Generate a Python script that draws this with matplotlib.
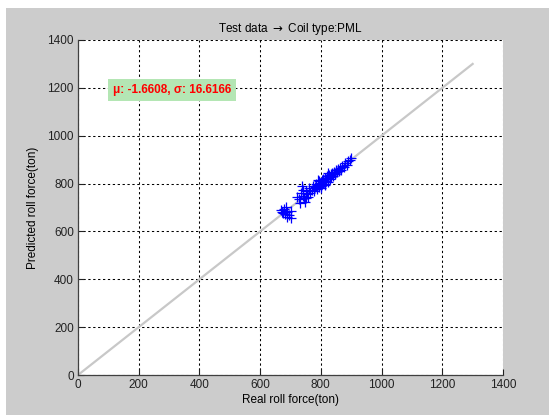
import matplotlib
matplotlib.use("Agg")
import matplotlib.pyplot as plt
from matplotlib.patches import Rectangle

plt.rcParams['font.family'] = ['Liberation Sans', 'DejaVu Sans']

# real vs predicted roll force (ton)
real = [668, 672, 678, 683, 688, 690, 695, 700, 702, 685, 676,
        722, 728, 733, 737, 740, 745, 748, 750, 755, 742, 758, 760, 765, 752, 730,
        770, 775, 778, 782, 785, 788, 790, 793, 795, 798, 800, 803, 805, 808,
        810, 812, 815, 818, 820, 822, 825, 828, 830, 833, 835, 838, 840, 843,
        845, 848, 850, 853, 856, 860, 863, 867, 870, 875, 880, 885, 890, 895,
        898, 802, 815, 825, 790]
pred = [690, 683, 695, 672, 660, 680, 668, 685, 655, 700, 678,
        745, 735, 760, 790, 750, 740, 725, 770, 755, 772, 742, 780, 760, 738, 720,
        775, 790, 768, 785, 800, 778, 795, 810, 785, 802, 790, 815, 800, 820,
        805, 795, 825, 812, 830, 808, 822, 835, 818, 840, 828, 845, 832, 850,
        838, 842, 855, 848, 860, 852, 866, 858, 875, 870, 885, 878, 893, 898,
        905, 780, 800, 845, 815]

ref_line = [0, 1300]
ticks = [0, 200, 400, 600, 800, 1000, 1200, 1400]
stats_text = "\u03bc: -1.6608, \u03c3: 16.6166"

fig = plt.figure(figsize=(5.49, 4.15), dpi=100)
fig.patch.set_facecolor("white")
fig.patches.append(Rectangle((6/549, 0), 1, (415-8)/415, transform=fig.transFigure,
                             facecolor="#cccccc", edgecolor="none", zorder=-10))

ax = fig.add_axes([78/549, 40/415, 425/549, 335/415])
ax.set_facecolor("white")
ax.plot(ref_line, ref_line, color="#c8c8c8", lw=1.6, zorder=2)
ax.plot(real, pred, "+", color="blue", ms=7, mew=0.9, zorder=3)

ax.set_xlim(0, 1400)
ax.set_ylim(0, 1400)
ax.set_xticks(ticks)
ax.set_yticks(ticks)
ax.grid(True, color="black", linestyle=(0, (2.2, 2.5)), lw=0.75)
ax.set_axisbelow(True)
for s in ["top", "right"]:
    ax.spines[s].set_visible(False)
for s in ["left", "bottom"]:
    ax.spines[s].set_color("#404040")
    ax.spines[s].set_linewidth(0.9)
ax.tick_params(direction="in", length=4, labelsize=8.5, colors="#222222", pad=3)

ax.set_title(r"Test data $\rightarrow$ Coil type:PML", fontsize=8.5, pad=6)
ax.set_xlabel("Real roll force(ton)", fontsize=8.5, labelpad=2)
ax.set_ylabel("Predicted roll force(ton)", fontsize=8.5, labelpad=6)

ax.text(311, 1190, stats_text, color="red", fontsize=8.5, fontweight="bold",
        ha="center", va="center",
        bbox=dict(facecolor="#b4e6b4", edgecolor="none", pad=3.5), zorder=4)

fig.savefig("out.png", dpi=100, facecolor=fig.get_facecolor())
